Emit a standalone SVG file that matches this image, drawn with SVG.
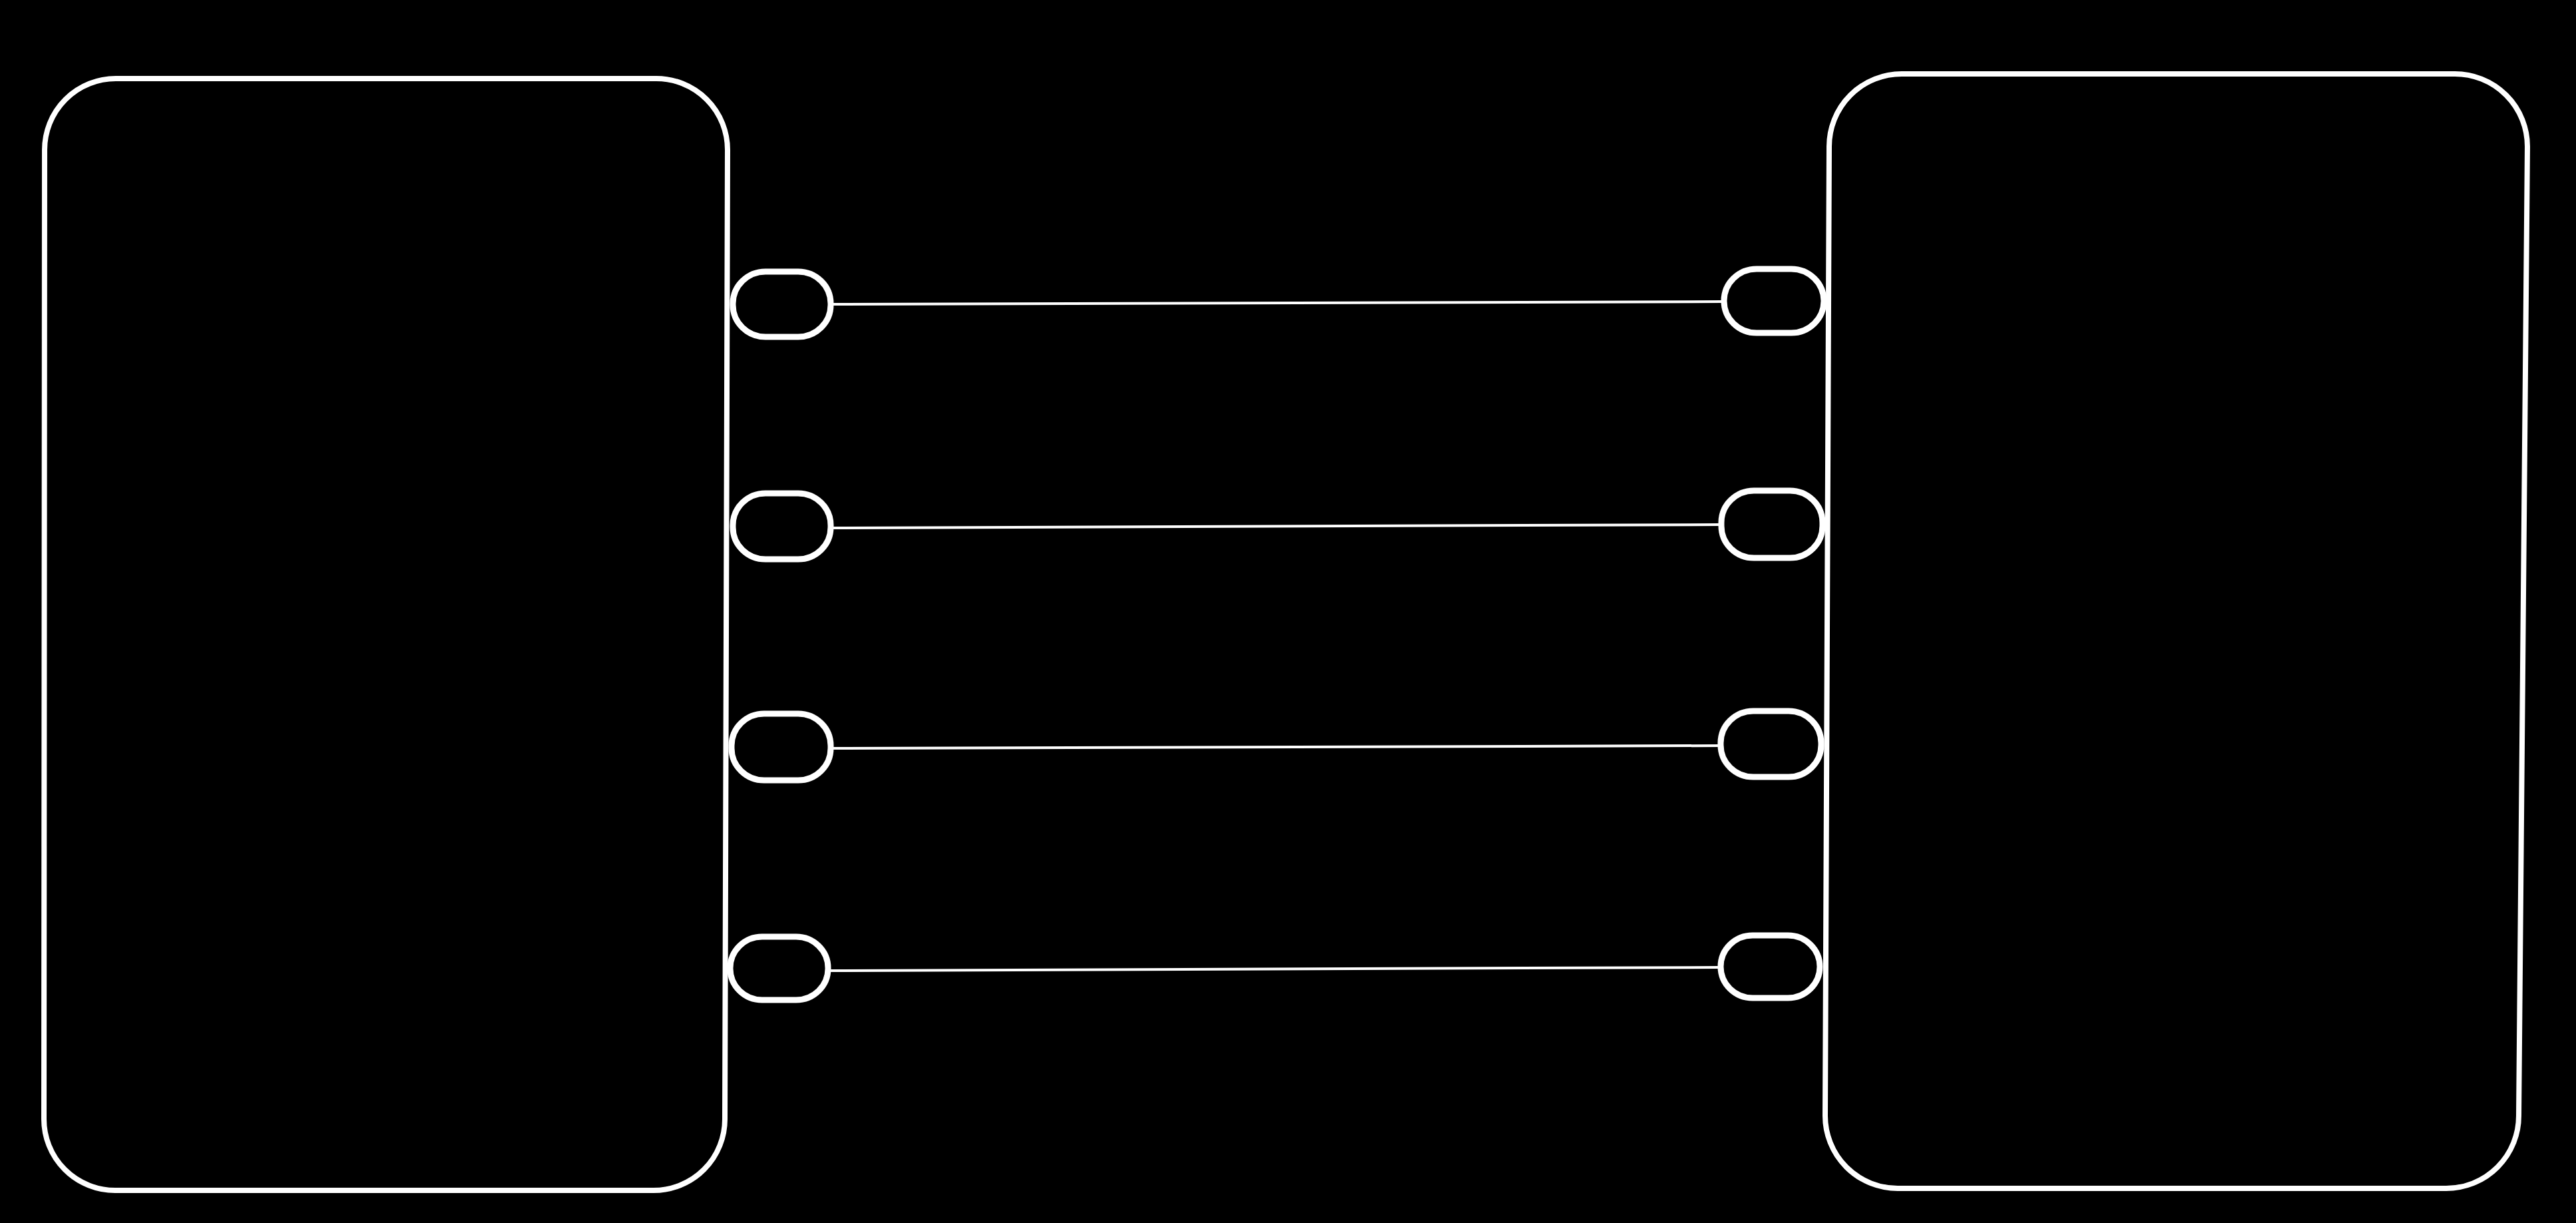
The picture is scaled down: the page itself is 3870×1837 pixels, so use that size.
<svg xmlns="http://www.w3.org/2000/svg" width="3870" height="1837" viewBox="0 0 3870 1837">
<style>
.box{fill:none;stroke:#fff;stroke-width:8;stroke-linejoin:round}
.port{fill:#000;stroke:#fff;stroke-width:9}
.wire{stroke:#fff;stroke-width:4;fill:none}
</style>
<rect x="0" y="0" width="3870" height="1837" fill="#000"/>
<g id="left-box">
<path class="box" d="M174,118 L986,118 A107,107 0 0 1 1093,225 L1089,1681 A107,107 0 0 1 982,1788 L173,1788 A107,107 0 0 1 66,1681 L67,225 A107,107 0 0 1 174,118 Z"/>
</g>
<g id="right-box">
<path class="box" d="M2857,111 L3688,111 A109,109 0 0 1 3797,220 L3784,1676 A109,109 0 0 1 3675,1785 L2851,1785 A109,109 0 0 1 2742,1676 L2748,220 A109,109 0 0 1 2857,111 Z"/>
</g>
<g id="connectors">
<line class="wire" x1="1250" y1="457" x2="2586" y2="453"/>
<line class="wire" x1="1250" y1="793" x2="2584" y2="788"/>
<line class="wire" x1="1250" y1="1124" x2="2583" y2="1120"/>
<line class="wire" x1="1248" y1="1458" x2="2582" y2="1453"/>
</g>
<g id="left-port-1"><rect class="port" x="1101" y="408" width="147" height="98" rx="49" ry="48"/></g>
<g id="left-port-2"><rect class="port" x="1101" y="741" width="147" height="99" rx="49" ry="48"/></g>
<g id="left-port-3"><rect class="port" x="1099" y="1072" width="149" height="100" rx="49" ry="48"/></g>
<g id="left-port-4"><rect class="port" x="1097" y="1407" width="147" height="95" rx="48" ry="47"/></g>
<g id="right-port-1"><rect class="port" x="2590" y="404" width="150" height="96" rx="49" ry="48"/></g>
<g id="right-port-2"><rect class="port" x="2586" y="737" width="152" height="101" rx="49" ry="48"/></g>
<g id="right-port-3"><rect class="port" x="2585" y="1068" width="151" height="99" rx="49" ry="48"/></g>
<g id="right-port-4"><rect class="port" x="2585" y="1405" width="149" height="94" rx="48" ry="47"/></g>
</svg>
